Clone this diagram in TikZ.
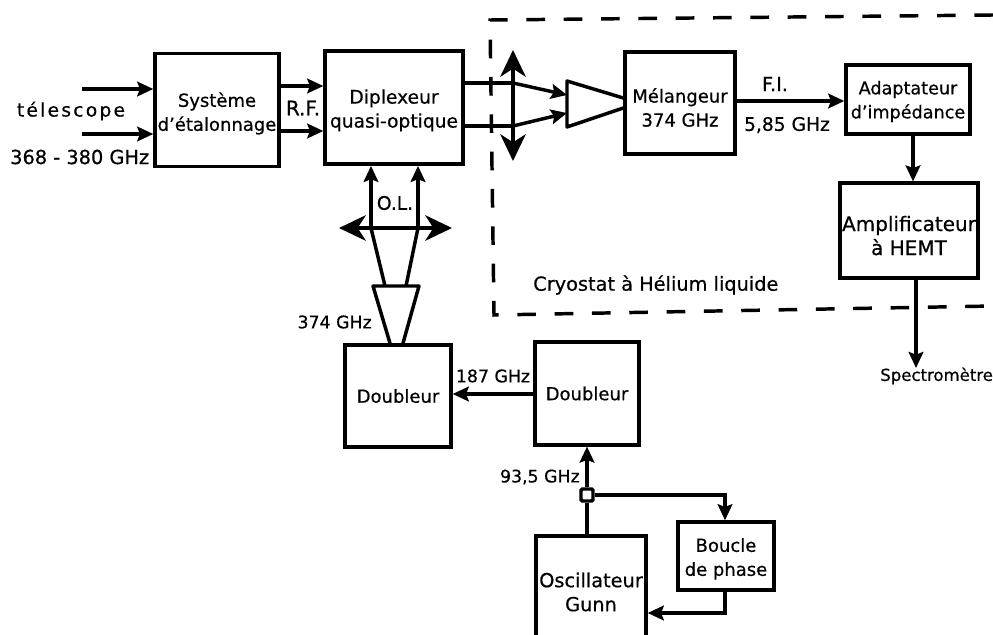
\documentclass[tikz,border=0pt]{standalone}
\usepackage{fontspec}
\setmainfont[FakeBold=0.5]{DejaVu Sans}
\usetikzlibrary{arrows.meta,calc}
\newcommand{\tpad}[1]{\rule{0pt}{#1pt}}
\tikzset{
  x=0.75pt,y=-0.75pt,
  box/.style={draw,line width=2.6pt,inner sep=0pt,align=center,font=\fontsize{13.5}{18}\selectfont},
  lbl/.style={inner sep=0pt,font=\fontsize{14}{16}\selectfont},
  small/.style={inner sep=0pt,font=\fontsize{13}{16}\selectfont},
  wire/.style={line width=2.6pt,-{Stealth[length=12pt,width=11pt,inset=2pt]}},
  plain/.style={line width=2.6pt},
  lens/.style={line width=3pt,{Stealth[length=20pt,width=19pt,inset=6pt]}-{Stealth[length=20pt,width=19pt,inset=6pt]}},
  cryo/.style={line width=2.6pt,dash pattern=on 14pt off 14pt},
}
\begin{document}
\begin{tikzpicture}
\useasboundingbox (0,0) rectangle (993,635);
\clip (0,0) rectangle (993,635);
\fill[white] (0,0) rectangle (993,635);
% boxes
\node[box,minimum width=93pt,minimum height=85pt] (sys) at (217,110) {\tpad{16}Système\\d'étalonnage};
\node[box,minimum width=103.5pt,minimum height=85pt,font=\fontsize{14}{18}\selectfont] (dip) at (394,107.5) {\tpad{15}Diplexeur\\quasi-optique};
\node[box,minimum width=82.5pt,minimum height=76.5pt] (mel) at (680,103) {\tpad{17.5}Mélangeur\\374 GHz};
\node[box,minimum width=93pt,minimum height=52pt,font=\fontsize{13.2}{18}\selectfont] (ada) at (908,99.5) {\tpad{13}Adaptateur\\d'impédance};
\node[box,minimum width=103.5pt,minimum height=71pt,font=\fontsize{15}{18}\selectfont] (amp) at (909,230.5) {\tpad{19}Amplificateur\\à HEMT};
\node[box,minimum width=79.5pt,minimum height=76.5pt] (d1) at (398,396) {Doubleur};
\node[box,minimum width=78pt,minimum height=77pt] (d2) at (587,393.5) {Doubleur};
\node[box,minimum width=82.5pt,minimum height=84pt,font=\fontsize{14.5}{18}\selectfont] (osc) at (591,592) {Oscillateur\\Gunn};
\node[box,minimum width=72pt,minimum height=51pt] (bou) at (726,556) {\tpad{14.5}Boucle\\de phase};
% labels
\node[lbl,font=\fontsize{14}{16}\selectfont\addfontfeatures{LetterSpace=12}] (t1) at (71,111) {télescope};
\node[lbl,anchor=west,font=\fontsize{14.5}{16}\selectfont] (t2) at (10,157) {368 - 380 GHz};
\node[lbl,font=\fontsize{15}{16}\selectfont] (t3) at (303,108) {R.F.};
\node[lbl] (t4) at (395,203) {O.L.};
\node[small,anchor=east] (t5) at (372,322) {374 GHz};
\node[small] (t6) at (493,376) {187 GHz};
\node[small,anchor=east] (t7) at (580,477) {93,5 GHz};
\node[lbl,font=\fontsize{14.5}{16}\selectfont] (t8) at (775,84) {F.I.};
\node[lbl] (t9) at (787,125) {5,85 GHz};
\node[lbl,anchor=west,font=\fontsize{14.5}{16}\selectfont] (t10) at (533,285) {Cryostat à Hélium liquide};
\node[lbl,anchor=west,font=\fontsize{12.4}{16}\selectfont] (t11) at (880,376) {Spectromètre};
% cryostat outline
\coordinate (c1) at (993,15);
\coordinate (c2) at (490,20);
\coordinate (c3) at (494,315);
\coordinate (c4) at (993,306);
\draw[cryo] (c1) -- (c2) -- (c3) -- (c4);
% free ends and lens points
\coordinate (in1) at (82,89);
\coordinate (in2) at (82,134);
\coordinate (ls1) at (513,83);
\coordinate (ls2) at (513,126);
\coordinate (lo1) at (371,228);
\coordinate (lo2) at (418,228);
\coordinate (end) at (916,368);
% tapers
\coordinate (ta) at (567,81);
\coordinate (tb) at (567,127);
\coordinate (to1) at (373,286);
\coordinate (to2) at (419,286);
\draw[plain,line join=round] (mel.west |- 0,98) -- (ta) -- (tb) -- (mel.west |- 0,108);
\draw[plain,line join=round] (d1.north -| 390,0) -- (to1) -- (to2) -- (d1.north -| 403,0);
% lenses
\node[inner sep=0pt,minimum size=0pt] (lv) at (513,105) {};
\node[inner sep=0pt,minimum size=0pt] (lh) at (395,228) {};
\coordinate (lvT) at (513,50);
\coordinate (lvB) at (513,161);
\coordinate (lhL) at (339,228);
\coordinate (lhR) at (452,228);
\draw[lens] (lvB) -- (lv.center) -- (lvT);
\draw[lens] (lhL) -- (lh.center) -- (lhR);
% connectors
\draw[wire] (in1) -- (sys.west |- in1);
\draw[wire] (in2) -- (sys.west |- in2);
\draw[wire] (sys.east |- 0,86) -- (dip.west |- 0,86);
\draw[wire] (sys.east |- 0,131) -- (dip.west |- 0,131);
\draw[plain] (dip.east |- ls1) -- (ls1);
\draw[plain] (dip.east |- ls2) -- (ls2);
\draw[wire] (ls1) -- (ta |- 0,95);
\draw[wire] (ls2) -- (tb |- 0,113);
\draw[wire] (lo1) -- (lo1 |- dip.south);
\draw[wire] (lo2) -- (lo2 |- dip.south);
\draw[plain] (lo1) -- (to1 -| 385,0);
\draw[plain] (lo2) -- (to2 -| 406,0);
\draw[wire] (mel.east |- 0,101) -- (ada.west |- 0,101);
\draw[wire] (ada.south -| 913,0) -- (amp.north -| 913,0);
\draw[wire] (amp.south -| 916,0) -- (end);
\draw[wire] (d2.west |- 0,394) -- (d1.east |- 0,394);
\node[draw,line width=2.6pt,fill=white,minimum size=9pt,inner sep=0pt,rounded corners=1pt] (cpl) at (587,495) {};
\draw[wire] (cpl) -- (cpl |- d2.south);
\draw[plain] (osc.north -| cpl) -- (cpl);
\draw[wire] (cpl) -| (bou.north -| 725,0);
\draw[wire] (bou.south -| 725,0) |- (osc.east |- 0,613);
\end{tikzpicture}
\end{document}
